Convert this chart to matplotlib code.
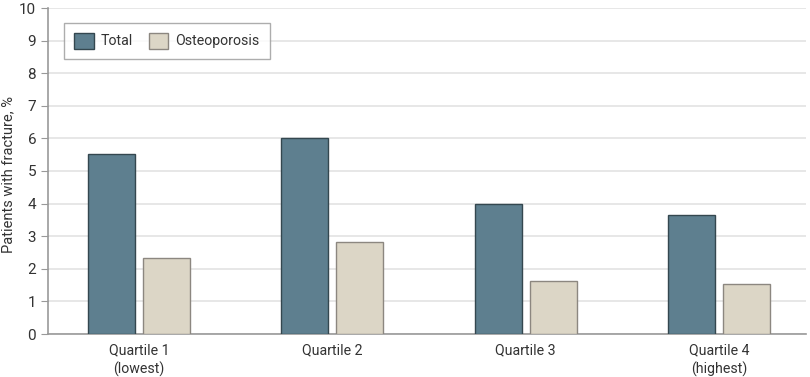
import matplotlib
matplotlib.use("Agg")
from matplotlib import pyplot as plt
import numpy as np

categories = ["Quartile 1\n(lowest)", "Quartile 2", "Quartile 3", "Quartile 4\n(highest)"]
total = [5.52, 6.01, 3.99, 3.65]
osteoporosis = [2.33, 2.82, 1.63, 1.53]

plt.rcParams['font.family'] = ['Roboto', 'DejaVu Sans']

fig = plt.figure(figsize=(8.1, 3.77), dpi=100)
ax = fig.add_axes([48/810, 43/377, 758/810, 326/377])

x = np.arange(len(categories))
w = 0.243
ax.bar(x - 0.142, total, w, color="#5e7f8f", edgecolor="#34474f", linewidth=1, label="Total", zorder=3)
ax.bar(x + 0.142, osteoporosis, w, color="#dcd6c6", edgecolor="#8c8780", linewidth=1, label="Osteoporosis", zorder=3)

ax.set_xlim(-0.47, 3.45)
ax.set_ylim(0, 10)
ax.set_yticks(range(0, 11))
ax.set_xticks(x)
ax.set_xticklabels(categories, fontsize=10.2, color="#333333", linespacing=1.35)
ax.tick_params(axis="x", length=0, pad=7)
ax.tick_params(axis="y", length=5, color="#999999", labelsize=11, labelcolor="#333333")
ax.yaxis.grid(True, color="#e3e3e3", linewidth=1.2, zorder=0)
ax.set_ylabel("Patients with fracture, %", fontsize=10.5, color="#333333")
ax.yaxis.set_label_coords(-0.043, 0.49)

for s in ["top", "right"]:
    ax.spines[s].set_visible(False)
ax.spines["left"].set_color("#999999")
ax.spines["bottom"].set_color("#999999")
ax.spines["left"].set_linewidth(1.2)
ax.spines["bottom"].set_linewidth(1.2)

leg = ax.legend(loc="upper left", bbox_to_anchor=(0.021, 0.955), borderaxespad=0, ncol=2,
                fontsize=10.2, frameon=True, fancybox=False, edgecolor="#999999",
                handlelength=1.4, handleheight=1.4, handletextpad=0.5, columnspacing=1.1,
                borderpad=0.7, labelcolor="#333333")
leg.get_frame().set_linewidth(1)

fig.savefig("out.png", dpi=100)
